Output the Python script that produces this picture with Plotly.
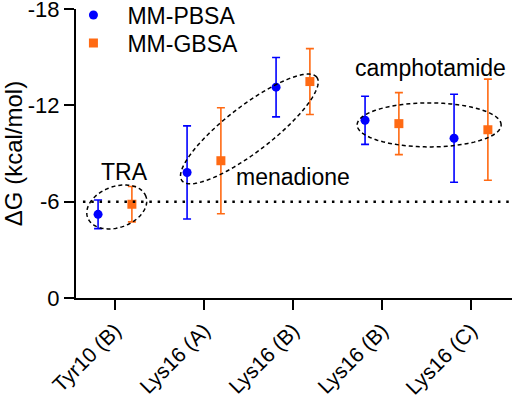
import numpy as np
import plotly.graph_objects as go

categories = ["Tyr10 (B)", "Lys16 (A)", "Lys16 (B)", "Lys16 (B)", "Lys16 (C)"]
pbsa = [-5.21, -7.82, -13.13, -11.07, -9.95]
pbsa_err = [0.89, 2.90, 1.85, 1.50, 2.74]
gbsa = [-5.84, -8.55, -13.48, -10.86, -10.48]
gbsa_err = [1.10, 3.30, 2.05, 1.93, 3.15]
y_ticks = [0, -6, -12, -18]

BLUE = "#0000FF"
ORANGE = "#FF6A13"
FONT = "Liberation Sans, Arial, sans-serif"

W, H = 512, 395
ML, MR, MT, MB = 76, 0, 9, 97
XR = [-0.438, 4.461]
YR = [0, -18]
pxx = (W - ML - MR) / (XR[1] - XR[0])
pxy = (H - MT - MB) / abs(YR[1] - YR[0])

idx = np.arange(len(categories))
off = 0.19

fig = go.Figure()
fig.add_trace(go.Scatter(
    x=idx - off, y=pbsa, mode="markers", name="MM-PBSA", legend="legend",
    marker=dict(symbol="circle", size=9, color=BLUE),
    error_y=dict(type="data", array=pbsa_err, color=BLUE, thickness=1.6, width=4),
))
fig.add_trace(go.Scatter(
    x=idx + off, y=gbsa, mode="markers", name="MM-GBSA", legend="legend2",
    marker=dict(symbol="square", size=9, color=ORANGE),
    error_y=dict(type="data", array=gbsa_err, color=ORANGE, thickness=1.6, width=4),
))


def ellipse_path(cx, cy, a, b, ang_deg, n=120):
    th = np.radians(ang_deg)
    t = np.linspace(0, 2 * np.pi, n)
    dx = a * np.cos(t) * np.cos(th) - b * np.sin(t) * np.sin(th)
    dy = a * np.cos(t) * np.sin(th) + b * np.sin(t) * np.cos(th)
    xs = cx + dx / pxx
    ys = cy - dy / pxy
    pts = [f"{x:.4f},{y:.4f}" for x, y in zip(xs, ys)]
    return "M " + " L ".join(pts) + " Z"


ellipses = [
    (0.02, -5.67, 31, 20.5, 20),
    (1.51, -10.53, 85, 23, 37.5),
    (3.53, -10.78, 72, 22, 0),
]
shapes = []
for cx, cy, a, b, ang in ellipses:
    shapes.append(dict(type="path", xref="x", yref="y", path=ellipse_path(cx, cy, a, b, ang),
                       line=dict(color="black", width=1.5, dash="4px,3px")))
shapes.append(dict(type="line", xref="x", yref="y", x0=-0.36, x1=4.44, y0=-6, y1=-6,
                   line=dict(color="black", width=2.5, dash="2.5px,5.8px")))

annotations = [
    dict(x=0.11, y=-7.85, text="TRA"),
    dict(x=2.0, y=-7.54, text="menadione"),
    dict(x=3.55, y=-14.33, text="camphotamide"),
]
for an in annotations:
    an.update(xref="x", yref="y", showarrow=False, font=dict(size=23, color="black", family=FONT))

leg_common = dict(xanchor="left", yanchor="middle", bgcolor="rgba(0,0,0,0)",
                  font=dict(size=23), itemwidth=58)
fig.update_layout(
    width=W, height=H,
    margin=dict(l=ML, r=MR, t=MT, b=MB, pad=0, autoexpand=False),
    paper_bgcolor="white", plot_bgcolor="white",
    font=dict(family=FONT, color="black", size=22),
    showlegend=True,
    legend=dict(x=-0.038, y=1 - (15 - MT) / (H - MT - MB), **leg_common),
    legend2=dict(x=-0.038, y=1 - (43 - MT) / (H - MT - MB), **leg_common),
    shapes=shapes,
    annotations=annotations,
)
fig.update_xaxes(
    range=XR, tickvals=list(idx), ticktext=categories, tickangle=-45, automargin=False,
    showline=True, linecolor="black", linewidth=2, ticks="outside", ticklen=10, tickwidth=2,
    tickcolor="black", showgrid=False, zeroline=False, tickfont=dict(size=21),
    ticklabeloverflow="allow",
)
fig.update_yaxes(
    range=YR, tickvals=y_ticks, ticktext=[str(v) for v in y_ticks], automargin=False,
    showline=True, linecolor="black", linewidth=2, ticks="outside", ticklen=10, tickwidth=2,
    tickcolor="black", showgrid=False, zeroline=False, tickfont=dict(size=22),
    ticklabeloverflow="allow",
    title=dict(text="ΔG (kcal/mol)", font=dict(size=24), standoff=11),
)
fig.write_html("out.html", config={"displayModeBar": False},
               post_script="document.body.style.margin='0';document.body.style.overflow='hidden';")
